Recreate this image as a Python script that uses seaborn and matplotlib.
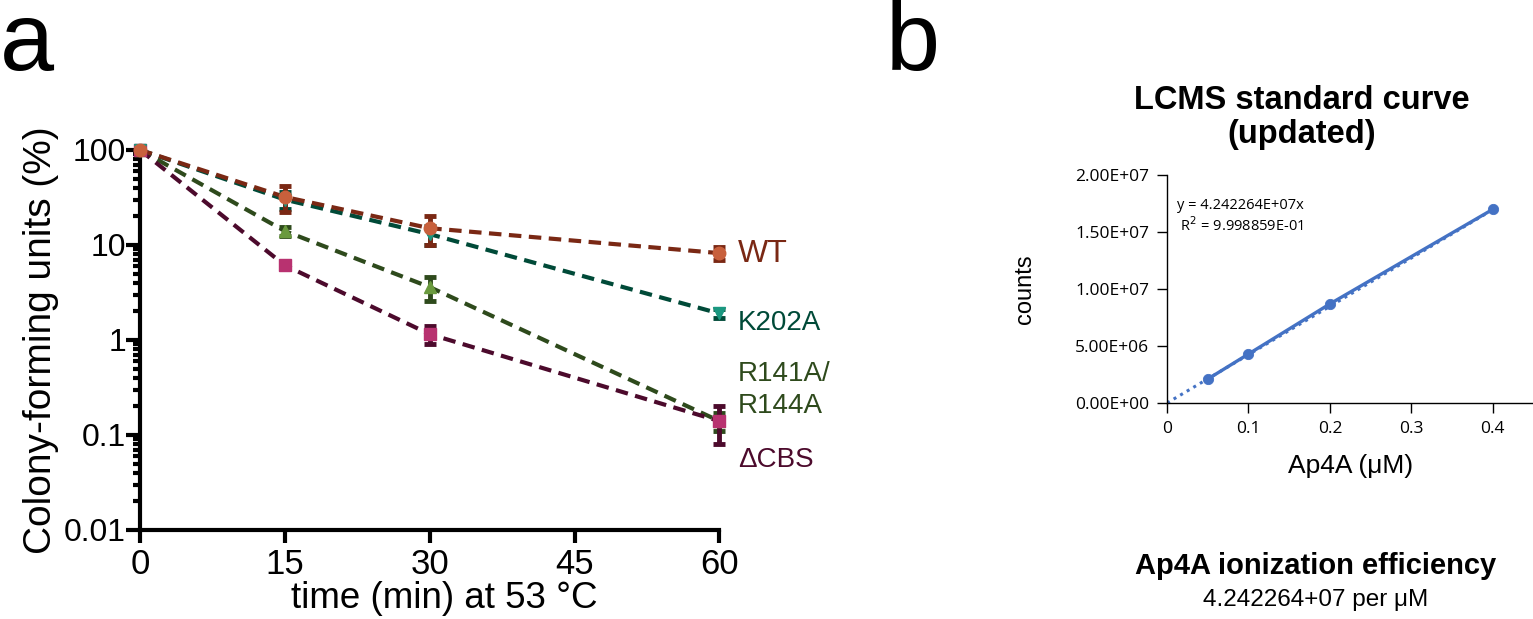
import numpy as np
import pandas as pd
import matplotlib
matplotlib.use("Agg")
import matplotlib.pyplot as plt
import seaborn as sns

# ---- panel a data: heat survival (CFU %, mean and sd) ----
times = [0, 15, 30, 60]
strains = ["WT", "K202A", "R141A/\nR144A", "\u0394CBS"]
wt_mean = [100, 32, 15, 8.2]
wt_sd = [3, 10, 5, 1.3]
k202a_mean = [100, 30, 13, 1.9]
k202a_sd = [3, 6, 3, 0.2]
r141a_mean = [100, 14, 3.6, 0.14]
r141a_sd = [3, 1.5, 1.0, 0.03]
dcbs_mean = [100, 6.1, 1.15, 0.14]
dcbs_sd = [3, 0.5, 0.25, 0.06]
label_y = [8.0, 1.5, 0.30, 0.055]

line_colors = ["#7a2814", "#004a38", "#2e4a1c", "#4c0a2c"]
marker_colors = ["#c8603c", "#1a9880", "#6a9a3e", "#b83270"]
markers = ["o", "v", "^", "s"]

# ---- panel b data: LCMS standard curve ----
conc = [0.05, 0.1, 0.2, 0.4]
counts = [2.1e6, 4.3e6, 8.7e6, 1.7e7]
slope = 4.242264e7

sns.set_theme(style="ticks")
plt.rcParams["font.family"] = ["Liberation Sans", "DejaVu Sans"]
plt.rcParams.update({"text.color": "black", "axes.labelcolor": "black",
                     "xtick.color": "black", "ytick.color": "black",
                     "axes.edgecolor": "black"})

fig = plt.figure(figsize=(15.33, 6.19), dpi=100)

# ================= panel a =================
ax = fig.add_axes([0.0913, 0.1438, 0.378, 0.614])
means = [wt_mean, k202a_mean, r141a_mean, dcbs_mean]
sds = [wt_sd, k202a_sd, r141a_sd, dcbs_sd]
# draw order so that WT ends up on top, as in the original
for i in [2, 3, 1, 0]:
    df = pd.DataFrame({"time": times, "cfu": means[i]})
    m = np.array(means[i])
    sd = np.array(sds[i])
    ax.errorbar(times, m, yerr=sd, fmt="none", ecolor=line_colors[i],
                elinewidth=3.5, capsize=4.5, capthick=3.5, zorder=3, clip_on=False)
    sns.lineplot(data=df, x="time", y="cfu", ax=ax, color=line_colors[i],
                 linestyle="--", linewidth=3, zorder=2)
    ax.lines[-1].set_dashes((3, 1.8))
    ax.plot(times, m, linestyle="none", marker=markers[i], markersize=9,
            markerfacecolor=marker_colors[i], markeredgecolor=marker_colors[i],
            zorder=4, clip_on=False)
    ax.text(61.9, label_y[i], strains[i], color=line_colors[i],
            fontsize=23 if i == 0 else 20, va="center", ha="left",
            linespacing=1.3, clip_on=False)

ax.set_yscale("log")
ax.set_ylim(0.01, 100)
ax.set_xlim(0, 60)
ax.set_xticks([0, 15, 30, 45, 60])
ax.set_yticks([0.01, 0.1, 1, 10, 100])
ax.set_yticklabels(["0.01", "0.1", "1", "10", "100"])
ax.set_xlabel("time (min) at 53 \u00b0C", fontsize=26.5)
ax.xaxis.set_label_coords(0.525, -0.135)
ax.set_ylabel("Colony-forming units (%)", fontsize=28, labelpad=4)
ax.tick_params(axis="x", labelsize=25, width=3, length=9, pad=4)
ax.tick_params(axis="y", which="major", labelsize=23, width=3, length=10, pad=0)
ax.tick_params(axis="y", which="minor", width=3, length=5)
for s in ["left", "bottom"]:
    ax.spines[s].set_linewidth(3)
sns.despine(ax=ax)

# ================= panel b =================
bx = fig.add_axes([0.7613, 0.349, 0.239, 0.368])
xfit = np.array([0, 0.4])
bx.plot(xfit, slope * xfit, linestyle=(0, (1, 1.5)), linewidth=2.2,
        color="#4472c4", zorder=1)
bx.plot(conc, counts, color="#4472c4", linewidth=2.4, zorder=2)
sns.scatterplot(x=conc, y=counts, ax=bx, color="#4472c4", s=55,
                edgecolor="#4472c4", zorder=3)
bx.set_xlim(0, 0.45)
bx.set_ylim(0, 2e7)
bx.set_xticks([0, 0.1, 0.2, 0.3, 0.4])
bx.set_xticklabels(["0", "0.1", "0.2", "0.3", "0.4"])
bx.set_yticks([0, 5e6, 1e7, 1.5e7, 2e7])
bx.set_yticklabels(["0.00E+00", "5.00E+06", "1.00E+07", "1.50E+07", "2.00E+07"])
bx.tick_params(labelsize=12.5, width=1, length=7, pad=6)
for lab in bx.get_xticklabels() + bx.get_yticklabels():
    lab.set_family(["Open Sans", "DejaVu Sans"])
for s in ["left", "bottom"]:
    bx.spines[s].set_linewidth(1)
sns.despine(ax=bx)
bx.set_xlabel("Ap4A (\u03bcM)", fontsize=19, labelpad=12)
bx.set_ylabel("counts", fontsize=17, labelpad=28)
bx.text(0.012, 1.737e7, "y = 4.242264E+07x", fontsize=10.5,
        family=["Open Sans", "DejaVu Sans"], va="center")
bx.text(0.012, 1.56e7, " R$^2$ = 9.998859E-01", fontsize=10.5,
        family=["Open Sans", "DejaVu Sans"], va="center")

fig.text(0.849, 0.81, "LCMS standard curve\n(updated)", ha="center", va="center",
         fontsize=23.5, fontweight="bold", linespacing=1.15)
fig.text(0.858, 0.085, "Ap4A ionization efficiency", ha="center", va="center",
         fontsize=21, fontweight="bold")
fig.text(0.858, 0.03, "4.242264+07 per \u03bcM", ha="center", va="center", fontsize=17.5)

# panel letters
fig.text(0.0, 1 - 70 / 619, "a", fontsize=70, va="baseline", ha="left")
fig.text(0.578, 1 - 70 / 619, "b", fontsize=70, va="baseline", ha="left")

fig.savefig("out.png", dpi=100, facecolor="white")
